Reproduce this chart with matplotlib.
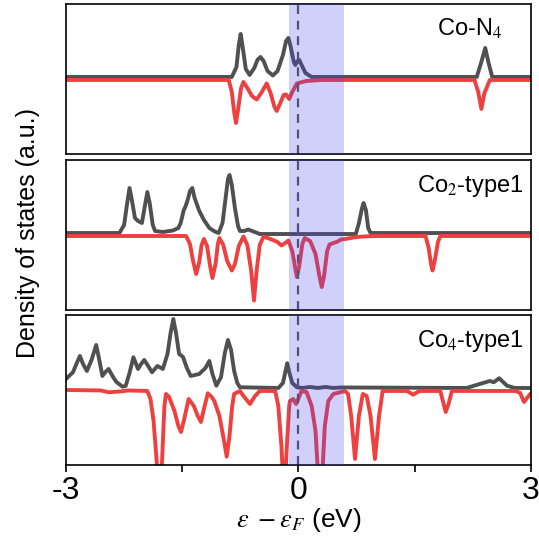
import numpy as np
import matplotlib
matplotlib.use('Agg')
import matplotlib.pyplot as plt

plt.rcParams['font.family'] = ['Liberation Sans', 'DejaVu Sans']
plt.rcParams['mathtext.fontset'] = 'stix'
plt.rcParams['axes.unicode_minus'] = False

# Co-N4 spin-resolved DOS (energy in eV, DOS in a.u.)
con4_e_up = [-3.0, -0.86, -0.80, -0.77, -0.746, -0.72, -0.68, -0.63, -0.57, -0.53, -0.49, -0.45,
             -0.40, -0.33, -0.27, -0.20, -0.16, -0.13, -0.10, -0.06, -0.04, -0.01, 0.01, 0.04,
             0.09, 0.17, 2.30, 2.36, 2.41, 2.45, 2.50, 3.0]
con4_up = [0.0, 0.0, 1.0, 3.2, 4.3, 3.0, 0.8, 0.2, 0.9, 1.7, 2.0, 1.6,
           0.6, 0.15, 0.6, 2.2, 3.6, 3.9, 3.0, 1.5, 1.2, 1.6, 1.7, 1.2,
           0.4, 0.0, 0.0, 1.5, 2.9, 1.5, 0.0, 0.0]
con4_e_dn = [-3.0, -0.90, -0.86, -0.83, -0.806, -0.78, -0.74, -0.71, -0.66, -0.60, -0.54, -0.48,
             -0.41, -0.36, -0.31, -0.28, -0.24, -0.19, -0.16, -0.12, -0.08, -0.02, 0.10, 0.30,
             2.27, 2.32, 2.36, 2.40, 2.47, 3.0]
con4_dn = [0.0, 0.0, -1.2, -3.2, -4.3, -3.0, -0.8, -0.2, -0.8, -1.6, -1.95, -1.3,
           -0.35, -1.3, -2.7, -3.1, -2.4, -1.5, -1.45, -1.9, -1.2, -0.35, -0.1, 0.0,
           0.0, -1.2, -2.9, -1.3, 0.0, 0.0]

# Co2-type1
co2_e_up = [-3.0, -2.31, -2.25, -2.21, -2.18, -2.15, -2.11, -2.07, -2.02, -1.98, -1.95, -1.92,
            -1.88, -1.85, -1.75, -1.62, -1.55, -1.52, -1.48, -1.46, -1.43, -1.40, -1.37, -1.34,
            -1.28, -1.22, -1.15, -1.08, -1.03, -0.98, -0.94, -0.91, -0.89, -0.86, -0.82, -0.78,
            -0.755, -0.70, -0.65, -0.58, -0.50, 0.74, 0.78, 0.82, 0.84, 0.87, 0.90, 0.93, 3.0]
co2_up = [0.0, 0.0, 0.8, 3.0, 4.5, 3.3, 1.5, 1.2, 1.0, 2.8, 4.1, 3.0,
          0.8, 0.2, 0.1, 0.25, 0.5, 1.0, 2.3, 2.6, 3.3, 4.2, 4.5, 3.5,
          2.2, 1.3, 0.5, 0.15, 0.0, 1.0, 3.5, 5.4, 5.8, 4.8, 2.5, 0.7,
          0.2, 0.2, 0.35, 0.15, -0.1, -0.1, 1.0, 2.5, 3.0, 2.3, 0.5, 0.0, 0.0]
co2_e_dn = [-3.0, -1.45, -1.40, -1.36, -1.32, -1.28, -1.25, -1.22, -1.18, -1.14, -1.11, -1.07,
            -1.04, -1.02, -0.97, -0.92, -0.86, -0.82, -0.77, -0.71, -0.66, -0.61, -0.574, -0.54,
            -0.50, -0.45, -0.33, -0.27, -0.22, -0.17, -0.13, -0.08, -0.04, -0.02, 0.01, 0.05,
            0.08, 0.15, 0.22, 0.27, 0.30, 0.33, 0.37, 0.40, 0.45, 0.49, 0.55, 0.60, 0.75, 0.84,
            1.0, 1.64, 1.68, 1.71, 1.73, 1.76, 1.80, 1.83, 3.0]
co2_dn = [0.0, 0.0, -0.8, -2.5, -3.8, -2.6, -0.9, -0.3, -1.0, -3.0, -4.2, -2.8,
          -0.8, -0.2, -0.9, -2.5, -3.45, -2.8, -1.0, -0.05, -0.9, -3.5, -6.45, -3.5,
          -0.9, -0.05, -0.4, -0.6, -0.95, -0.7, -0.45, -1.5, -3.3, -4.1, -3.0, -0.8,
          -0.2, -0.5, -1.8, -4.0, -5.1, -4.0, -1.5, -0.85, -0.7, -0.6, -0.35, -0.3, -0.1, -0.05,
          0.0, 0.0, -1.2, -2.8, -3.45, -2.4, -0.6, 0.0, 0.0]

# Co4-type1
co4_e_up = [-3.0, -2.91, -2.86, -2.82, -2.78, -2.73, -2.67, -2.61, -2.57, -2.53, -2.49, -2.45,
            -2.40, -2.35, -2.27, -2.23, -2.18, -2.13, -2.07, -2.03, -1.99, -1.94, -1.89, -1.82,
            -1.75, -1.69, -1.65, -1.615, -1.58, -1.54, -1.49, -1.44, -1.39, -1.28, -1.20, -1.15,
            -1.11, -1.06, -1.00, -0.95, -0.91, -0.87, -0.83, -0.79, -0.755, -0.26, -0.20, -0.17,
            -0.145, -0.12, -0.08, -0.02, 0.05, 0.15, 0.25, 0.35, 0.45, 0.55, 2.17, 2.34, 2.47,
            2.52, 2.59, 2.69, 2.79, 3.0]
co4_up = [0.9, 1.57, 2.5, 3.2, 2.4, 1.7, 2.8, 4.3, 2.8, 1.2, 1.6, 1.9,
          1.2, 0.6, 0.13, 0.2, 1.5, 3.07, 1.9, 2.4, 2.8, 2.2, 1.57, 2.2,
          1.9, 3.4, 5.5, 6.9, 5.5, 3.4, 3.1, 2.0, 1.2, 1.4, 2.0, 2.7,
          1.4, 0.23, 1.07, 3.5, 4.8, 3.8, 1.7, 0.5, 0.07, 0.0, 0.5, 1.6,
          2.47, 1.6, 0.5, 0.07, 0.0, 0.1, 0.0, 0.1, 0.0, 0.05, 0.0, 0.4, 0.7,
          0.57, 0.97, 0.23, 0.0, 0.0]
co4_e_dn = [-3.0, -2.55, -2.45, -2.30, -2.20, -1.95, -1.91, -1.87, -1.83, -1.795, -1.76, -1.73,
            -1.71, -1.67, -1.60, -1.55, -1.516, -1.48, -1.417, -1.35, -1.30, -1.258, -1.22, -1.17,
            -1.12, -1.086, -1.02, -0.96, -0.926, -0.89, -0.855, -0.83, -0.755, -0.70, -0.626, -0.56,
            -0.50, -0.30, -0.26, -0.22, -0.185, -0.15, -0.12, -0.11, -0.067, -0.03, 0.04, 0.106,
            0.17, 0.22, 0.25, 0.28, 0.31, 0.34, 0.385, 0.45, 0.60, 0.64, 0.68, 0.73, 0.78, 0.83,
            0.88, 0.93, 0.987, 1.04, 1.086, 1.40, 1.48, 1.56, 1.83, 1.87, 1.90, 1.94, 1.98, 2.80,
            2.86, 2.91, 2.99, 3.0]
co4_dn = [0.1, 0.05, -0.13, -0.05, 0.05, 0.0, -0.8, -2.97, -7.0, -12.0, -7.0, -1.5,
          -0.3, -0.6, -2.0, -3.5, -4.1, -3.0, -0.8, -1.5, -2.5, -3.1, -1.8, -0.23,
          -0.6, -1.0, -2.5, -5.0, -6.57, -4.5, -1.5, -0.3, 0.0, -0.6, -1.3, -0.5,
          0.0, 0.0, -1.5, -5.5, -11.0, -5.5, -1.5, -1.0, -0.8, -1.3, 0.0, -0.13,
          -1.5, -4.0, -8.0, -11.0, -8.0, -3.5, -1.0, -0.3, 0.0, -0.3, -2.5, -6.8, -2.5, -0.3,
          -0.5, -2.5, -6.8, -2.5, 0.0, 0.0, -0.37, 0.0, 0.0, -1.2, -2.1, -1.2, 0.0, 0.0,
          -0.2, -1.1, -0.3, -0.3]

labels = ['Co-N$_4$', 'Co$_2$-type1', 'Co$_4$-type1']
label_x = [0.938, 0.983, 0.983]
panels = [(con4_e_up, con4_up, con4_e_dn, con4_dn),
          (co2_e_up, co2_up, co2_e_dn, co2_dn),
          (co4_e_up, co4_up, co4_e_dn, co4_dn)]

gap_lo, gap_hi = -0.12, 0.59   # highlighted window around E_F

fig = plt.figure(figsize=(5.39, 5.42), dpi=100)
bottoms = [0.7159, 0.4280, 0.1421]
for i, (eu, du, ed, dd) in enumerate(panels):
    ax = fig.add_axes([0.1224, bottoms[i], 0.8627, 0.2768])
    ax.plot(eu, np.array(du) + 0.3, color='#505050', lw=2.8, zorder=2)
    ax.plot(ed, dd, color='#ef4040', lw=2.8, zorder=2.1)
    ax.axvline(0, color='#555560', lw=1.6, ls=(0, (4, 3)), zorder=2.5)
    ax.axvspan(gap_lo, gap_hi, color='#4444ee', alpha=0.25, lw=0, zorder=3)
    ax.set_xlim(-3, 3)
    ax.set_ylim(-7.4, 7.6)
    ax.set_yticks([])
    ax.text(label_x[i], 0.787, labels[i], transform=ax.transAxes, ha='right',
            va='baseline', fontsize=17)
    for s in ax.spines.values():
        s.set_linewidth(1.2)
    if i < 2:
        ax.set_xticks([])
    else:
        ax.set_xticks([-3, -1.5, 0, 1.5, 3])
        ax.set_xticklabels(['-3', '', '0', '', '3'], fontsize=23)
        ax.tick_params(axis='x', direction='out', length=5, width=1.2, pad=3)
        ax.set_xlabel(r'$\varepsilon\ -\varepsilon_F$ (eV)', fontsize=19, labelpad=0)

fig.text(0.052, 0.57, 'Density of states (a.u.)', rotation=90, ha='center', va='center',
         fontsize=18)

plt.savefig('out.png', dpi=100)
